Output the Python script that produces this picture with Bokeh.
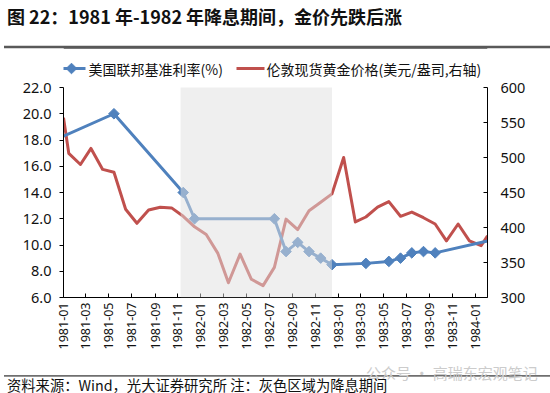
import numpy as np
import pandas as pd
from bokeh.plotting import figure
from bokeh.layouts import column
from bokeh.models import (Range1d, LinearAxis, FixedTicker, NumeralTickFormatter, MonthsTicker,
                          DatetimeTickFormatter, BoxAnnotation, Label, Div)
from bokeh.embed import file_html
from bokeh.resources import INLINE

# ---------------- data ----------------
title_text = "图 22：1981 年-1982 年降息期间，金价先跌后涨"
source_text = "资料来源：Wind，光大证券研究所 注：灰色区域为降息期间"
watermark_text = "公众号 · 高瑞东宏观笔记"
rate_label = "美国联邦基准利率(%)"
gold_label = "伦敦现货黄金价格(美元/盎司,右轴)"

# gold: axis start, mid-month values 1981-01 .. 1984-01, axis end
gold_mid_months = pd.date_range("1981-01-01", "1984-01-01", freq="MS") + pd.Timedelta(days=14)
gold_dates = [pd.Timestamp("1981-01-01")] + list(gold_mid_months) + [pd.Timestamp("1984-02-01")]
gold_values = [557,
               506, 490, 513, 483, 479, 426, 406, 425, 429, 428, 416, 401,   # 1981
               390, 363, 321, 362, 326, 317, 343, 412, 397, 424, 436, 448,   # 1982
               500, 408, 415, 429, 437, 416, 422, 414, 405, 381, 405, 381,   # 1983
               374,                                                           # 1984-01
               388]

rate_dates = ["1981-01-01", "1981-05-15", "1981-11-15", "1981-12-15", "1982-07-15",
              "1982-08-15", "1982-09-15", "1982-10-15", "1982-11-15", "1982-12-15",
              "1983-03-15", "1983-05-15", "1983-06-15", "1983-07-15", "1983-08-15",
              "1983-09-15", "1984-02-01"]
rate_values = [18.3, 20.0, 14.0, 12.0, 12.0, 9.5, 10.2, 9.5, 9.0, 8.5,
               8.6, 8.75, 9.0, 9.4, 9.5, 9.4, 10.3]
rate_has_marker = [False, True, True, True, True, True, True, True, True, True,
                   True, True, True, True, True, True, False]

cut_start = "1981-11-08"
cut_end = "1982-12-15"

left_ticks = [6, 8, 10, 12, 14, 16, 18, 20, 22]
right_ticks = [300, 350, 400, 450, 500, 550, 600]
x_start = "1981-01-01"
x_end = "1984-02-01"

BLUE = "#4F81BD"
RED = "#C0504D"
RULE = "#595959"
CJK = "Noto Sans CJK SC"
TXT = "#111111"
W, H = 550, 393
HEAD_H = 44                      # header block (title); the rule sits just below it
RULE_Y = 47                      # page y of the rule under the title
FOOT_TOP = 360                   # page y where the footer block starts
MAIN_H = FOOT_TOP - HEAD_H
BL, BR = 63, 63
FRAME_BOTTOM = 297               # page y of the x axis
AX_TOP = 87                      # page y of the top of both value axes
AX_H = FRAME_BOTTOM - AX_TOP

left_per_px = (left_ticks[-1] - left_ticks[0]) / AX_H
right_per_px = (right_ticks[-1] - right_ticks[0]) / AX_H
left_top = left_ticks[-1] + (AX_TOP - HEAD_H) * left_per_px
right_top = right_ticks[-1] + (AX_TOP - HEAD_H) * right_per_px

t0, t1 = pd.Timestamp(x_start), pd.Timestamp(x_end)


def sx(x_px):   # page x -> screen units (relative to frame left)
    return x_px - BL


def sy(y_px):   # page y -> screen units (relative to frame bottom, upward)
    return FRAME_BOTTOM - y_px


def dx(x_px):   # page x -> date on the x scale (legend keys only)
    return t0 + (t1 - t0) * ((x_px - BL) / (W - BL - BR))


def dy(y_px):   # page y -> left-axis value (decorations only)
    return left_ticks[0] + (FRAME_BOTTOM - y_px) * left_per_px


rate_dt = pd.to_datetime(rate_dates)
mk_dates = [d for d, m in zip(rate_dt, rate_has_marker) if m]
mk_vals = [v for v, m in zip(rate_values, rate_has_marker) if m]

# ---------------- header: title and the dark rule under it ----------------
header_html = (
    '<div style="position:relative;width:550px;height:44px;overflow:visible;">'
    '<span style="position:absolute;left:7px;top:4px;white-space:nowrap;'
    "font-family:'Noto Sans CJK SC';font-size:18px;font-weight:bold;line-height:24px;"
    f'color:{TXT};">{title_text}</span>'
    '<div style="position:absolute;left:4px;top:0px;width:546px;height:45.75px;'
    f'border-bottom:2.5px solid {RULE};box-sizing:content-box;"></div>'
    '<svg width="550" height="6" style="position:absolute;left:0px;top:44px;overflow:visible;">'
    f'<line x1="4" y1="3" x2="550" y2="3" stroke="{RULE}" stroke-width="2.5"/></svg>'
    '</div>')
header = Div(text=header_html, width=W, height=HEAD_H, margin=(0, 0, 0, 0),
             styles={"overflow": "visible"})

# ---------------- main chart ----------------
p = figure(width=W, height=MAIN_H, x_axis_type="datetime",
           x_range=Range1d(t0, t1),
           y_range=Range1d(left_ticks[0], left_top),
           output_backend="svg", toolbar_location=None, margin=(0, 0, 0, 0),
           min_border_left=BL, min_border_right=BR, min_border_top=0,
           min_border_bottom=FOOT_TOP - FRAME_BOTTOM)
p.extra_y_ranges = {"gold": Range1d(right_ticks[0], right_top)}
p.xgrid.visible = False
p.ygrid.visible = False
p.outline_line_color = None
p.background_fill_alpha = 0
p.border_fill_alpha = 0

xa = p.xaxis[0]
xa.ticker = MonthsTicker(months=[0, 2, 4, 6, 8, 10])
xa.formatter = DatetimeTickFormatter(months="%Y-%m", days="%Y-%m", years="%Y-%m")
xa.major_label_orientation = np.pi / 2
xa.major_tick_in = 4
xa.major_tick_out = 0
xa.minor_tick_line_color = None
xa.axis_line_color = "black"
xa.major_tick_line_color = "black"
xa.major_label_text_font = "Noto Sans"
xa.major_label_text_font_size = "12.5px"
xa.major_label_text_color = TXT
xa.major_label_standoff = 5

ya = p.yaxis[0]
ya.ticker = FixedTicker(ticks=left_ticks)
ya.formatter = NumeralTickFormatter(format="0.0")
ya.bounds = (left_ticks[0], left_ticks[-1])
ya.major_tick_in = 0
ya.major_tick_out = 4
ya.minor_tick_line_color = None
ya.axis_line_color = "black"
ya.major_tick_line_color = "black"
ya.major_label_text_font = "Noto Sans"
ya.major_label_text_font_size = "14.5px"
ya.major_label_text_color = TXT
ya.major_label_standoff = 8

ra = LinearAxis(y_range_name="gold", ticker=FixedTicker(ticks=right_ticks),
                bounds=(right_ticks[0], right_ticks[-1]))
ra.major_tick_in = 4
ra.major_tick_out = 0
ra.minor_tick_line_color = None
ra.axis_line_color = "black"
ra.major_tick_line_color = "black"
ra.major_label_text_font = "Noto Sans"
ra.major_label_text_font_size = "14.5px"
ra.major_label_text_color = TXT
ra.major_label_standoff = 13
p.add_layout(ra, "right")

# rule under the title (the part over the plot frame; the header draws it full width)
p.line([t0, t1], [dy(RULE_Y), dy(RULE_Y)], line_color=RULE, line_width=2.5)

p.line(gold_dates, gold_values, y_range_name="gold", line_color=RED, line_width=3,
       line_join="round")
p.line(rate_dt, rate_values, line_color=BLUE, line_width=3, line_join="round")
p.scatter(mk_dates, mk_vals, marker="square", angle=np.pi / 4, size=7.5,
          fill_color=BLUE, line_color=BLUE)

# rate-cut period shading (drawn over the lines, which therefore look pale)
p.add_layout(BoxAnnotation(left=pd.Timestamp(cut_start), right=pd.Timestamp(cut_end),
                           bottom=left_ticks[0], top=left_ticks[-1],
                           fill_color="#E0E0E0", fill_alpha=0.5, line_color=None))

# legend (keys in the room above the axes, texts as labels)
LEG_Y = 68
p.line([dx(57), dx(85)], [dy(LEG_Y), dy(LEG_Y)], line_color=BLUE, line_width=3)
p.scatter([dx(71)], [dy(LEG_Y)], marker="square", angle=np.pi / 4, size=7.5,
          fill_color=BLUE, line_color=BLUE)
p.line([dx(236), dx(264)], [dy(LEG_Y), dy(LEG_Y)], line_color=RED, line_width=3)
p.add_layout(Label(x=sx(88), y=sy(LEG_Y), x_units="screen", y_units="screen", text=rate_label,
                   text_font=CJK, text_font_size="14px", text_baseline="middle",
                   text_color=TXT))
p.add_layout(Label(x=sx(266), y=sy(LEG_Y), x_units="screen", y_units="screen", text=gold_label,
                   text_font=CJK, text_font_size="14px", text_baseline="middle",
                   text_color=TXT))

# ---------------- footer: rule, watermark, source note ----------------
footer_html = (
    '<div style="position:relative;width:550px;height:33px;overflow:visible;">'
    '<div style="position:absolute;left:4px;top:15.25px;width:546px;height:0px;'
    'border-top:1.5px solid #6F6F6F;box-sizing:content-box;"></div>'
    '<svg width="550" height="4" style="position:absolute;left:0px;top:14px;overflow:visible;">'
    '<line x1="4" y1="2" x2="550" y2="2" stroke="#6F6F6F" stroke-width="1.5"/></svg>'
    '<span style="position:absolute;left:366px;top:3px;white-space:nowrap;'
    "font-family:'Noto Sans CJK SC';font-size:15px;line-height:20px;color:#CCCCCC;\">"
    f'{watermark_text}</span>'
    '<span style="position:absolute;left:7px;top:18px;white-space:nowrap;'
    "font-family:'Noto Sans CJK SC';font-size:14.3px;line-height:14px;"
    f'color:{TXT};">{source_text}</span>'
    '</div>')
footer = Div(text=footer_html, width=W, height=H - FOOT_TOP, margin=(0, 0, 0, 0),
             styles={"overflow": "visible"})

layout = column(header, p, footer, spacing=0, margin=(0, 0, 0, 0))
open("out.html", "w").write(file_html(layout, INLINE))
